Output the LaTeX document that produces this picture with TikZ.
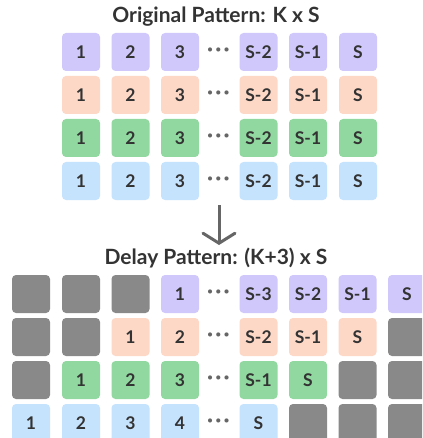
\documentclass[tikz,border=0pt]{standalone}
\usepackage{fontspec}
\setmainfont{Lato}
\usetikzlibrary{arrows.meta}
\definecolor{pu}{HTML}{D0C8FB}
\definecolor{pe}{HTML}{FDD8C7}
\definecolor{gr}{HTML}{90D8A0}
\definecolor{bl}{HTML}{C6E3FD}
\definecolor{gy}{HTML}{898989}
\definecolor{txt}{HTML}{333333}
\definecolor{dotc}{HTML}{666666}
\newcommand{\numfont}{\bfseries\fontsize{17.5}{20}\selectfont}
\newcommand{\ttlfont}{\bfseries\fontsize{21}{24}\selectfont}
\newcommand{\dotsfont}{\bfseries\fontsize{22}{22}\selectfont}
\newcommand{\mydots}{·\hspace{2.2pt}·\hspace{2.2pt}·}
\tikzset{
  cell/.style={minimum size=38pt, inner sep=0pt, rounded corners=4pt, text=txt, font=\numfont},
  ttl/.style={text=txt, font=\ttlfont, inner sep=0pt},
  dotsnode/.style={text=dotc, font=\dotsfont, inner sep=0pt},
}
\begin{document}
\begin{tikzpicture}[x=1pt,y=-1pt]
\clip (0,0) rectangle (422,438);
\fill[white] (0,0) rectangle (422,438);
% titles
\node[ttl] (t1) at (216,17) {Original Pattern: K x S};
\node[ttl] (t2) at (216,258) {Delay Pattern: (K+3) x S};
% top grid
\foreach \r/\y/\c in {1/52/pu,2/95/pe,3/138/gr,4/181/bl}{
  \node[cell,fill=\c] (o\r a) at (81,\y) {1};
  \node[cell,fill=\c] (o\r b) at (130.5,\y) {2};
  \node[cell,fill=\c] (o\r c) at (180,\y) {3};
  \node[dotsnode] (o\r d) at (218.5,\y) {\mydots};
  \node[cell,fill=\c] (o\r e) at (258.5,\y) {S-2};
  \node[cell,fill=\c] (o\r f) at (308,\y) {S-1};
  \node[cell,fill=\c] (o\r g) at (358,\y) {S};
}
% arrow
\coordinate (as) at (219,205);
\coordinate (ae) at (219,245);
\draw[line width=3pt, draw=dotc, -{Straight Barb[length=10pt,width=32pt,line cap=round]}] (as) -- (ae);
% bottom grid
\def\ya{294}\def\yb{337}\def\yc{380}\def\yd{423}
% row 1
\node[cell,fill=gy] (d1a) at (31,\ya) {};
\node[cell,fill=gy] (d1b) at (81,\ya) {};
\node[cell,fill=gy] (d1c) at (130.5,\ya) {};
\node[cell,fill=pu] (d1d) at (180,\ya) {1};
\node[dotsnode] (d1x) at (218.5,\ya) {\mydots};
\node[cell,fill=pu] (d1e) at (258.5,\ya) {S-3};
\node[cell,fill=pu] (d1f) at (308,\ya) {S-2};
\node[cell,fill=pu] (d1g) at (357.5,\ya) {S-1};
\node[cell,fill=pu] (d1h) at (407,\ya) {S};
% row 2
\node[cell,fill=gy] (d2a) at (31,\yb) {};
\node[cell,fill=gy] (d2b) at (81,\yb) {};
\node[cell,fill=pe] (d2c) at (130.5,\yb) {1};
\node[cell,fill=pe] (d2d) at (180,\yb) {2};
\node[dotsnode] (d2x) at (218.5,\yb) {\mydots};
\node[cell,fill=pe] (d2e) at (258.5,\yb) {S-2};
\node[cell,fill=pe] (d2f) at (308,\yb) {S-1};
\node[cell,fill=pe] (d2g) at (357.5,\yb) {S};
\node[cell,fill=gy] (d2h) at (407,\yb) {};
% row 3
\node[cell,fill=gy] (d3a) at (31,\yc) {};
\node[cell,fill=gr] (d3b) at (81,\yc) {1};
\node[cell,fill=gr] (d3c) at (130.5,\yc) {2};
\node[cell,fill=gr] (d3d) at (180,\yc) {3};
\node[dotsnode] (d3x) at (218.5,\yc) {\mydots};
\node[cell,fill=gr] (d3e) at (258.5,\yc) {S-1};
\node[cell,fill=gr] (d3f) at (308,\yc) {S};
\node[cell,fill=gy] (d3g) at (357.5,\yc) {};
\node[cell,fill=gy] (d3h) at (407,\yc) {};
% row 4
\node[cell,fill=bl] (d4a) at (31,\yd) {1};
\node[cell,fill=bl] (d4b) at (81,\yd) {2};
\node[cell,fill=bl] (d4c) at (130.5,\yd) {3};
\node[cell,fill=bl] (d4d) at (180,\yd) {4};
\node[dotsnode] (d4x) at (218.5,\yd) {\mydots};
\node[cell,fill=bl] (d4e) at (258.5,\yd) {S};
\node[cell,fill=gy] (d4f) at (308,\yd) {};
\node[cell,fill=gy] (d4g) at (357.5,\yd) {};
\node[cell,fill=gy] (d4h) at (407,\yd) {};
\end{tikzpicture}
\end{document}
